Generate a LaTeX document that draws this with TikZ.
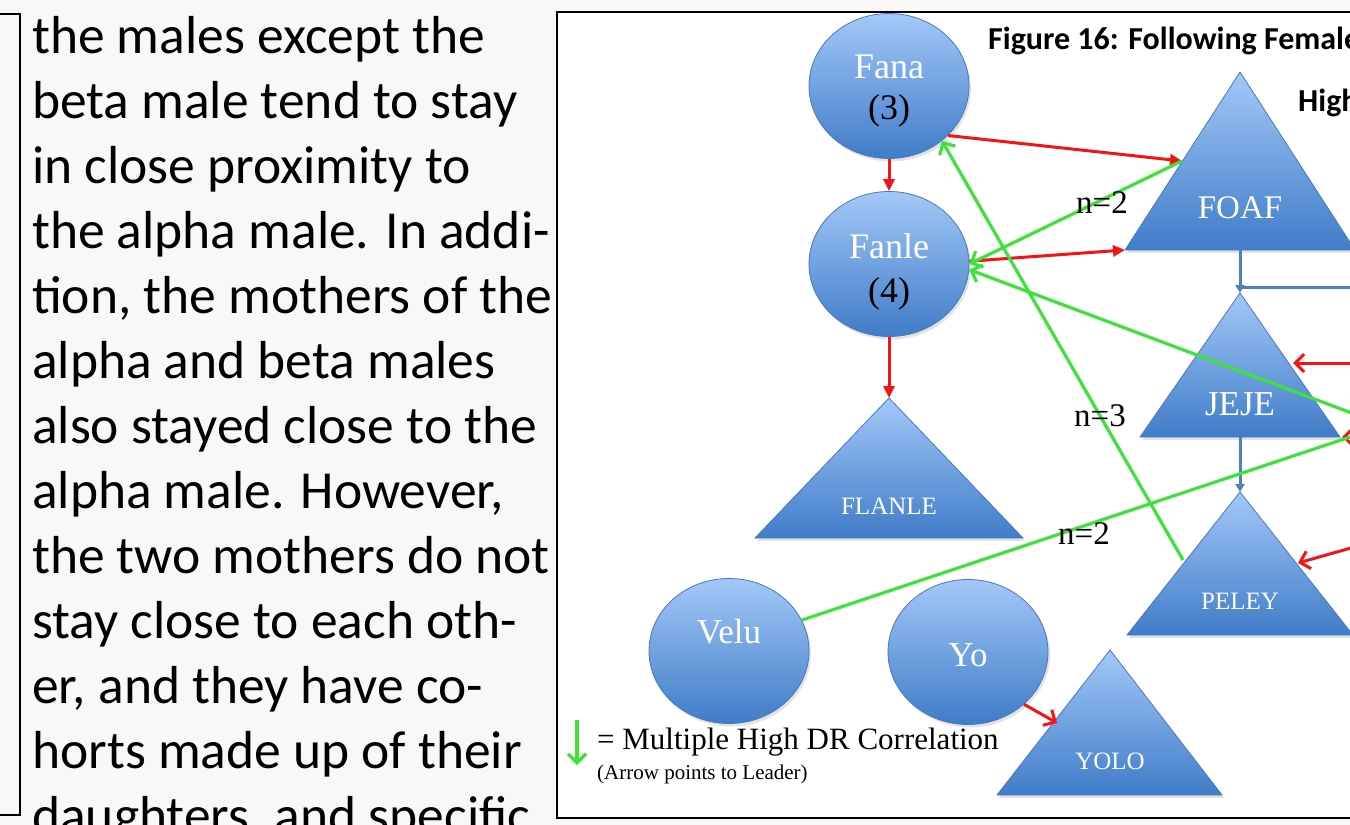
\documentclass[tikz,border=0pt]{standalone}
\usepackage{fontspec}
\setmainfont{Liberation Serif}
\newfontfamily\calib{Carlito}
\usetikzlibrary{arrows.meta,shadows,shapes.geometric}
\definecolor{pagebg}{HTML}{F9F8F6}
\definecolor{btop}{HTML}{A3C8F8}
\definecolor{bbot}{HTML}{407CC8}
\definecolor{bedge}{HTML}{4A78B8}
\definecolor{mygreen}{HTML}{3EE33A}
\definecolor{myred}{HTML}{F41414}
\definecolor{mblue}{HTML}{4F81BD}
\begin{document}
\begin{tikzpicture}[x=1pt,y=-1pt,
  body/.style={anchor=base west, font=\calib\fontsize{53.5}{65}\selectfont, inner sep=0pt},
  circ/.style={ellipse, draw=bedge, line width=0.8pt, top color=btop, bottom color=bbot,
    minimum width=160pt, minimum height=145pt, inner sep=0pt, align=center,
    font=\fontsize{35}{43}\selectfont,
    drop shadow={opacity=0.22, shadow xshift=2pt, shadow yshift=-3pt}},
  tri/.style={draw=bedge, line width=0.8pt, top color=btop, bottom color=bbot,
    drop shadow={opacity=0.22, shadow xshift=2pt, shadow yshift=-3pt}},
  wlab/.style={text=white, inner sep=0pt},
  klab/.style={text=black, inner sep=0pt, font=\fontsize{36}{40}\selectfont},
  nlab/.style={font=\fontsize{33}{36}\selectfont, inner sep=0pt},
  redA/.style={draw=myred, line width=3pt, -{Triangle[length=12pt,width=11pt]}},
  redB/.style={draw=myred, line width=3pt, -{Straight Barb[length=9pt,width=18pt]}},
  grn/.style={draw=mygreen, line width=3.2pt},
  grnA/.style={draw=mygreen, line width=3.2pt, -{Straight Barb[length=9pt,width=18pt]}},
  blu/.style={draw=mblue, line width=3pt},
  bluA/.style={draw=mblue, line width=3pt, -{Triangle[length=8pt,width=9pt]}}
]
\useasboundingbox (0,0) rectangle (1350,825);
\begin{scope}
\clip (0,0) rectangle (1350,825);
\fill[pagebg] (0,0) rectangle (1350,825);
% left column edge
\draw[line width=1.8pt] (0,14) -- (20,14) -- (20,815) -- (0,815);
% body text
\node[body] (l1) at (32,53) {the males except the};
\node[body] (l2) at (32,118) {beta male tend to stay};
\node[body] (l3) at (32,183) {in close proximity to};
\node[body] (l4) at (32,248) {the alpha male. In addi-};
\node[body] (l5) at (32,313) {tion, the mothers of the};
\node[body] (l6) at (32,378) {alpha and beta males};
\node[body] (l7) at (32,443) {also stayed close to the};
\node[body] (l8) at (32,508) {alpha male. However,};
\node[body] (l9) at (32,573) {the two mothers do not};
\node[body] (l10) at (32,638) {stay close to each oth-};
\node[body] (l11) at (32,703) {er, and they have co-};
\node[body] (l12) at (32,768) {horts made up of their};
\node[body] (l13) at (32,833) {daughters, and specific};
% figure frame
\draw[line width=2.5pt, fill=white] (557,12) rectangle (1370,818);
% titles
\node[anchor=base west, inner sep=0pt, font=\calib\bfseries\fontsize{32}{36}\selectfont] (title) at (988,49) {Figure 16: Following Female};
\node[anchor=base west, inner sep=0pt, font=\calib\bfseries\fontsize{32}{36}\selectfont] (high) at (1298,111) {High};
% triangles
\coordinate (foafA) at (1240,72); \coordinate (foafBL) at (1125,250); \coordinate (foafBR) at (1355,250);
\coordinate (jejeA) at (1240,293); \coordinate (jejeBL) at (1140,437); \coordinate (jejeBR) at (1340,437);
\coordinate (peleyA) at (1240,492); \coordinate (peleyBL) at (1127,635); \coordinate (peleyBR) at (1353,635);
\coordinate (flanleA) at (889,398); \coordinate (flanleBL) at (755,538); \coordinate (flanleBR) at (1023,538);
\coordinate (yoloA) at (1110,650); \coordinate (yoloBL) at (997,795); \coordinate (yoloBR) at (1222,795);
\path[tri] (foafA) -- (foafBR) -- (foafBL) -- cycle;
\path[tri] (jejeA) -- (jejeBR) -- (jejeBL) -- cycle;
\path[tri] (peleyA) -- (peleyBR) -- (peleyBL) -- cycle;
\path[tri] (flanleA) -- (flanleBR) -- (flanleBL) -- cycle;
\path[tri] (yoloA) -- (yoloBR) -- (yoloBL) -- cycle;
\node[wlab, font=\fontsize{33}{36}\selectfont] (foaf) at (1240,208) {FOAF};
\node[wlab, font=\fontsize{35}{36}\selectfont] (jeje) at (1240,404) {JEJE};
\node[wlab, font=\fontsize{25}{28}\selectfont] (peley) at (1240,601) {PELEY};
\node[wlab, font=\fontsize{25}{28}\selectfont] (flanle) at (889,506) {FLANLE};
\node[wlab, font=\fontsize{25}{28}\selectfont] (yolo) at (1110,761) {YOLO};
% circles
\node[circ] (fana) at (889,86) {};
\node[wlab, font=\fontsize{36}{40}\selectfont] (fanat) at (889,67) {Fana};
\node[klab] (fana3) at (889,111) {(3)};
\node[circ] (fanle) at (889,264) {};
\node[wlab, font=\fontsize{36}{40}\selectfont] (fanlet) at (889,246) {Fanle};
\node[klab] (fanle4) at (889,294) {(4)};
\node[circ] (velu) at (729,651) {};
\node[wlab, font=\fontsize{35}{40}\selectfont] (velut) at (729,632) {Velu};
\node[circ] (yo) at (968,652) {};
\node[wlab, font=\fontsize{35}{40}\selectfont] (yot) at (968,655) {Yo};
% connector points
\coordinate (foafS) at (1182,161);
\coordinate (peleyS) at (1183,560);
\coordinate (eR1) at (1365,418);
\coordinate (eR2) at (1365,432);
\coordinate (eR3) at (1365,363);
\coordinate (jejeS) at (1293,363);
\coordinate (eR4) at (1365,437);
\coordinate (jejeC) at (1342,437);
\coordinate (eR5) at (1365,544);
\coordinate (peleyS2) at (1298,563);
\coordinate (yoloS) at (1057,723);
\coordinate (foafB) at (1240,250);
\coordinate (jn) at (1240,287);
\coordinate (eR6) at (1365,287);
\coordinate (jejeB) at (1240,437);
\coordinate (lg1) at (577,720);
\coordinate (lg2) at (577,765);
% blue connectors
\draw[blu] (eR6) -- (jn);
\draw[bluA] (foafB) -- (jejeA);
\draw[bluA] (jejeB) -- (peleyA);
% red connectors
\draw[redA] (fana.south) -- (fanle.north);
\draw[redA] (fanle.south) -- (flanleA);
\draw[redA] (fana.-40) -- (foafS);
\draw[redA] (fanle.2) -- (foafBL);
\draw[redB] (eR3) -- (jejeS);
\draw[redB] (eR4) -- (jejeC);
\draw[redB] (eR5) -- (peleyS2);
\draw[redB] (yo.-43) -- (yoloS);
% green connectors
\draw[grnA] (foafS) -- (fanle.east);
\draw[grnA] (peleyS) -- (fana.-46);
\draw[grnA] (eR1) -- (fanle.-4);
\draw[grn] (velu.23) -- (eR2);
% n labels
\node[nlab] (n1) at (1102,203) {n=2};
\node[nlab] (n2) at (1100,416) {n=3};
\node[nlab] (n3) at (1084,534) {n=2};
% legend
\draw[grnA] (lg1) -- (lg2);
\node[anchor=west, inner sep=0pt, font=\fontsize{31}{34}\selectfont] (leg1) at (597,742) {= Multiple High DR Correlation};
\node[anchor=west, inner sep=0pt, font=\fontsize{21}{24}\selectfont] (leg2) at (597,774) {(Arrow points to Leader)};
\end{scope}
\end{tikzpicture}
\end{document}
